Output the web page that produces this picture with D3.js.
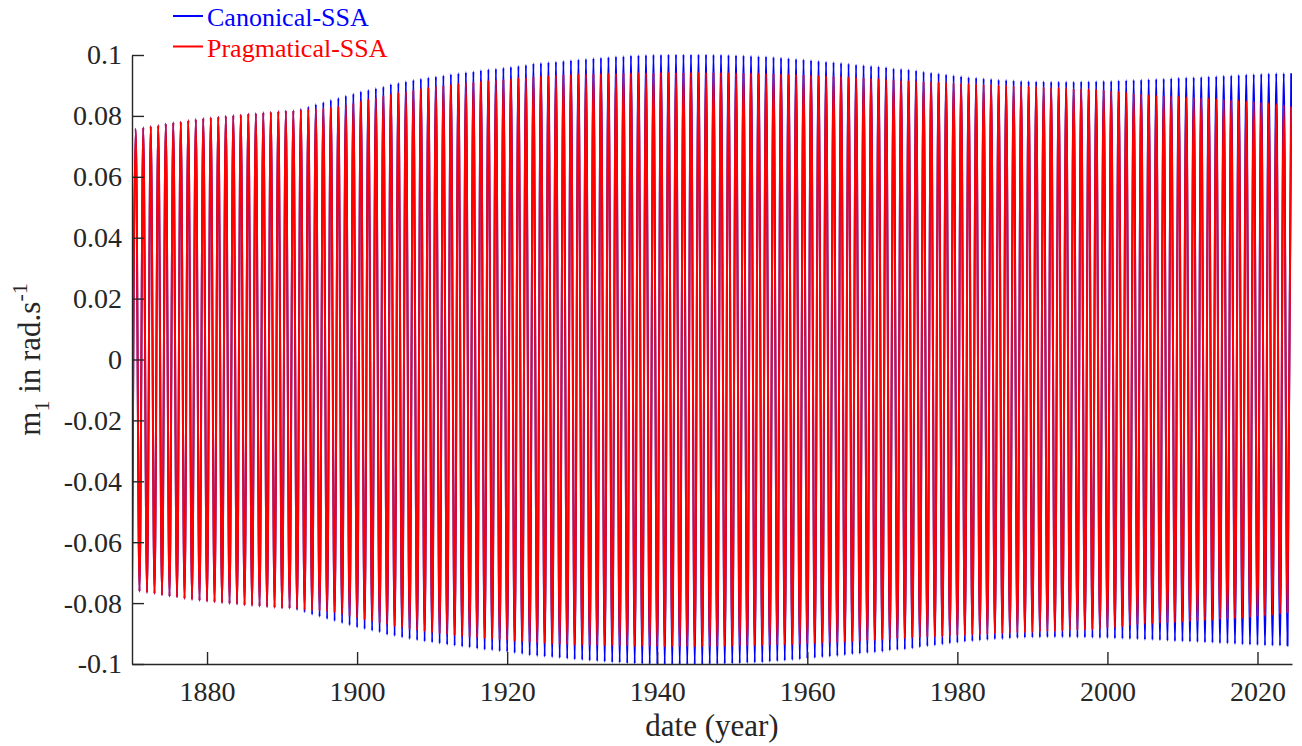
<!DOCTYPE html>
<html>
<head>
<meta charset="utf-8">
<script src="https://cdn.jsdelivr.net/npm/d3@7"></script>
<style>
  html, body { margin: 0; padding: 0; background: #fff; }
  svg { display: block; }
  text { font-family: "Liberation Serif", "Times New Roman", serif; }
</style>
</head>
<body>
<svg id="chart" width="1302" height="746"></svg>
<script>
// Polar-motion m1 component: yearly oscillation envelope (rad.s^-1),
// one amplitude per year, first year 1870. Trough at Jan 1, crest mid-year.
const firstYear = 1870;

const canonicalAmp = [
  0.0758, 0.0762, 0.0766, 0.0769, 0.0774, 0.0778, 0.0781, 0.0786, 0.0789, 0.0792, // 1870s
  0.0795, 0.0797, 0.0800, 0.0802, 0.0804, 0.0807, 0.0809, 0.0811, 0.0813, 0.0815, // 1880s
  0.0817, 0.0818, 0.0823, 0.0830, 0.0838, 0.0845, 0.0852, 0.0859, 0.0866, 0.0873, // 1890s
  0.0880, 0.0885, 0.0891, 0.0896, 0.0904, 0.0908, 0.0913, 0.0918, 0.0922, 0.0926, // 1900s
  0.0929, 0.0933, 0.0937, 0.0940, 0.0943, 0.0946, 0.0950, 0.0953, 0.0955, 0.0958, // 1910s
  0.0961, 0.0964, 0.0967, 0.0972, 0.0974, 0.0976, 0.0978, 0.0980, 0.0983, 0.0985, // 1920s
  0.0987, 0.0989, 0.0991, 0.0993, 0.0995, 0.0996, 0.0998, 0.0999, 0.1000, 0.1001, // 1930s
  0.1001, 0.1002, 0.1002, 0.1002, 0.1002, 0.1002, 0.1002, 0.1001, 0.1001, 0.1000, // 1940s
  0.0999, 0.0998, 0.0997, 0.0996, 0.0995, 0.0993, 0.0991, 0.0989, 0.0987, 0.0985, // 1950s
  0.0983, 0.0980, 0.0978, 0.0976, 0.0974, 0.0971, 0.0968, 0.0966, 0.0964, 0.0962, // 1960s
  0.0960, 0.0956, 0.0954, 0.0952, 0.0949, 0.0945, 0.0942, 0.0939, 0.0936, 0.0933, // 1970s
  0.0930, 0.0927, 0.0925, 0.0923, 0.0921, 0.0919, 0.0918, 0.0916, 0.0915, 0.0914, // 1980s
  0.0913, 0.0913, 0.0912, 0.0912, 0.0912, 0.0912, 0.0913, 0.0913, 0.0914, 0.0915, // 1990s
  0.0915, 0.0916, 0.0917, 0.0918, 0.0919, 0.0920, 0.0921, 0.0922, 0.0924, 0.0925, // 2000s
  0.0926, 0.0927, 0.0928, 0.0929, 0.0930, 0.0932, 0.0933, 0.0934, 0.0936, 0.0937, // 2010s
  0.0938, 0.0939, 0.0940, 0.0940, 0.0940                                          // 2020s
];

const pragmaticAmp = [
  0.0758, 0.0762, 0.0766, 0.0769, 0.0774, 0.0778, 0.0781, 0.0786, 0.0789, 0.0792, // 1870s
  0.0795, 0.0797, 0.0800, 0.0802, 0.0804, 0.0807, 0.0809, 0.0811, 0.0813, 0.0815, // 1880s
  0.0817, 0.0818, 0.0819, 0.0822, 0.0824, 0.0826, 0.0828, 0.0831, 0.0836, 0.0842, // 1890s
  0.0849, 0.0855, 0.0860, 0.0866, 0.0871, 0.0877, 0.0880, 0.0885, 0.0890, 0.0893, // 1900s
  0.0897, 0.0901, 0.0903, 0.0906, 0.0909, 0.0911, 0.0914, 0.0916, 0.0918, 0.0920, // 1910s
  0.0922, 0.0925, 0.0927, 0.0929, 0.0931, 0.0932, 0.0934, 0.0936, 0.0937, 0.0938, // 1920s
  0.0938, 0.0939, 0.0939, 0.0940, 0.0940, 0.0941, 0.0941, 0.0942, 0.0942, 0.0942, // 1930s
  0.0943, 0.0943, 0.0943, 0.0943, 0.0943, 0.0943, 0.0943, 0.0943, 0.0943, 0.0942, // 1940s
  0.0942, 0.0941, 0.0941, 0.0940, 0.0939, 0.0939, 0.0938, 0.0937, 0.0937, 0.0936, // 1950s
  0.0934, 0.0933, 0.0932, 0.0931, 0.0930, 0.0928, 0.0927, 0.0926, 0.0924, 0.0922, // 1960s
  0.0920, 0.0919, 0.0917, 0.0916, 0.0914, 0.0913, 0.0912, 0.0911, 0.0910, 0.0908, // 1970s
  0.0907, 0.0906, 0.0905, 0.0904, 0.0903, 0.0901, 0.0900, 0.0899, 0.0898, 0.0897, // 1980s
  0.0896, 0.0895, 0.0894, 0.0893, 0.0892, 0.0890, 0.0889, 0.0888, 0.0887, 0.0885, // 1990s
  0.0882, 0.0880, 0.0878, 0.0874, 0.0872, 0.0869, 0.0868, 0.0867, 0.0866, 0.0864, // 2000s
  0.0862, 0.0861, 0.0860, 0.0858, 0.0856, 0.0854, 0.0852, 0.0851, 0.0849, 0.0847, // 2010s
  0.0844, 0.0842, 0.0839, 0.0836, 0.0831                                          // 2020s
];

const seriesNames = ["Canonical-SSA", "Pragmatical-SSA"];
const seriesColors = ["#0000ff", "#ff0000"];

const xDomain = [1870, 2024.6];
const yDomain = [-0.1, 0.1];
const xTicks = [1880, 1900, 1920, 1940, 1960, 1980, 2000, 2020];
const yTicks = [-0.1, -0.08, -0.06, -0.04, -0.02, 0, 0.02, 0.04, 0.06, 0.08, 0.1];

// ---- layout ----
const plot = { left: 132, right: 1292, top: 55, bottom: 664 };
const axisColor = "#262626";

const svg = d3.select("#chart");

const x = d3.scaleLinear().domain(xDomain).range([plot.left, plot.right]);
const y = d3.scaleLinear().domain(yDomain).range([plot.bottom, plot.top]);

// Alternating extrema: -A at the start of each year, +A half a year later
function extrema(amps) {
  const pts = [];
  amps.forEach((a, i) => {
    const yr = firstYear + i;
    pts.push([yr, -a]);
    pts.push([yr + 0.5, a]);
  });
  return pts;
}

svg.append("clipPath").attr("id", "plot-clip")
  .append("rect")
  .attr("x", plot.left)
  .attr("y", plot.top - 1)
  .attr("width", plot.right - plot.left)
  .attr("height", plot.bottom - plot.top + 2);

const line = d3.line()
  .x(d => x(d[0]))
  .y(d => y(d[1]))
  .curve(d3.curveMonotoneX);

const dataLayer = svg.append("g").attr("clip-path", "url(#plot-clip)");

[canonicalAmp, pragmaticAmp].forEach((amps, i) => {
  dataLayer.append("path")
    .datum(extrema(amps))
    .attr("fill", "none")
    .attr("stroke", seriesColors[i])
    .attr("stroke-width", 2)
    .attr("stroke-linejoin", "round")
    .attr("d", line);
});

// ---- axes (ticks pointing inward) ----
const fmt = v => String(+v.toFixed(2));

const yAxis = svg.append("g")
  .attr("transform", `translate(${plot.left},0)`)
  .call(d3.axisLeft(y).tickValues(yTicks).tickFormat(fmt)
    .tickSizeInner(-12).tickSizeOuter(0).tickPadding(10));

const xAxis = svg.append("g")
  .attr("transform", `translate(0,${plot.bottom})`)
  .call(d3.axisBottom(x).tickValues(xTicks).tickFormat(d3.format("d"))
    .tickSizeInner(-12).tickSizeOuter(0).tickPadding(17));

[yAxis, xAxis].forEach(g => {
  g.select(".domain").attr("stroke", axisColor).attr("stroke-width", 1.4);
  g.selectAll(".tick line").attr("stroke", axisColor).attr("stroke-width", 1.4);
  g.selectAll(".tick text")
    .attr("fill", axisColor)
    .style("font-family", "'Liberation Serif', 'Times New Roman', serif")
    .style("font-size", "28px");
});

// ---- axis titles ----
svg.append("text")
  .attr("x", (plot.left + plot.right) / 2)
  .attr("y", 736)
  .attr("text-anchor", "middle")
  .attr("fill", axisColor)
  .style("font-size", "31px")
  .text("date (year)");

const yTitle = svg.append("text")
  .attr("transform", `translate(40,${(plot.top + plot.bottom) / 2}) rotate(-90)`)
  .attr("text-anchor", "middle")
  .attr("fill", axisColor)
  .style("font-size", "31px");
yTitle.append("tspan").text("m");
yTitle.append("tspan").attr("dy", 9).style("font-size", "22px").text("1");
yTitle.append("tspan").attr("dy", -9).text(" in rad.s");
yTitle.append("tspan").attr("dy", -13).style("font-size", "22px").text("-1");

// ---- legend ----
const legendRows = [16, 46.5];
seriesNames.forEach((name, i) => {
  const g = svg.append("g").attr("transform", `translate(0,${legendRows[i]})`);
  g.append("line")
    .attr("x1", 173).attr("x2", 203)
    .attr("y1", 0).attr("y2", 0)
    .attr("stroke", seriesColors[i])
    .attr("stroke-width", 2);
  g.append("text")
    .attr("x", 207)
    .attr("y", 10)
    .attr("fill", seriesColors[i])
    .style("font-size", "26px")
    .text(name);
});
</script>
</body>
</html>
